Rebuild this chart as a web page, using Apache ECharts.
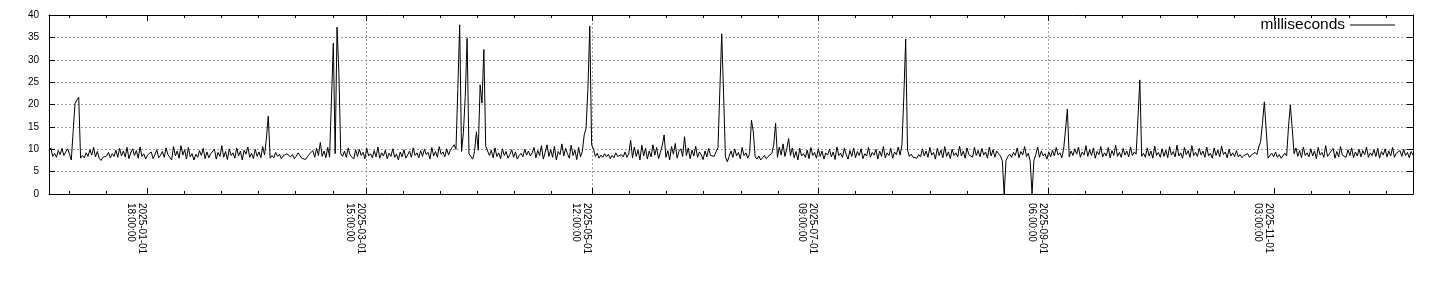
<!DOCTYPE html>
<html>
<head>
<meta charset="utf-8">
<script src="https://cdn.jsdelivr.net/npm/echarts@6/dist/echarts.min.js"></script>
<style>
html,body{margin:0;padding:0;background:#fff;}
#chart{width:1440px;height:300px;}
</style>
</head>
<body>
<div id="chart"></div>
<script>
// ---- data ----
const seriesName = 'milliseconds';
const startTime = '2024-12-06 09:00:00';   // first sample (UTC)
const endTime = '2025-12-08 09:00:00';     // last sample (UTC)
const stepHours = 12;                       // sampling interval
const majorTickLabels = ['2025-01-01 18:00:00','2025-03-01 15:00:00','2025-05-01 12:00:00','2025-07-01 09:00:00','2025-09-01 06:00:00','2025-11-01 03:00:00'];
const priorMajorTick = '2024-11-01 21:00:00';
const minorTickDays = [10,20,30,40,50];
const values = [
9.6,10.3,8.4,9.1,8.2,9.7,8.8,10.2,8.6,9.4,10.1,8.9,7.6,14.0,20.2,21.0,21.6,8.0,8.6,8.1,
9.2,8.4,9.9,8.7,10.4,8.3,9.5,8.0,7.5,8.2,7.8,8.5,9.3,8.1,9.0,8.4,9.8,8.2,10.2,8.5,
9.6,8.3,10.4,7.9,9.2,10.1,8.6,9.7,8.0,10.5,8.4,9.0,7.8,8.7,8.3,9.4,7.9,8.8,9.9,8.1,
8.6,9.5,8.2,10.3,8.8,9.1,7.6,10.6,8.5,9.6,8.0,10.8,8.7,9.9,7.8,10.4,8.3,9.0,7.6,8.9,
8.2,9.7,8.6,10.2,7.9,9.4,8.1,9.0,8.6,10.0,7.8,9.3,8.4,10.8,8.2,9.5,7.7,10.1,8.6,9.2,
8.0,10.3,8.5,9.6,7.6,9.8,8.9,10.5,8.2,9.1,7.9,10.0,8.4,9.4,8.1,10.6,8.7,12.5,17.4,8.0,
8.6,8.1,9.3,8.4,8.9,7.9,8.5,8.2,9.0,8.7,8.3,8.8,7.9,8.4,9.2,8.6,8.0,7.6,7.7,8.3,
8.9,8.5,9.7,8.2,10.2,8.6,11.5,8.4,9.6,8.1,10.4,8.3,21.0,33.7,9.0,37.3,27.0,9.0,8.4,9.6,
8.2,10.3,8.7,9.1,7.8,9.9,8.4,10.0,8.6,9.3,7.9,10.2,8.5,9.0,8.1,9.7,8.3,10.5,8.0,9.2,
8.5,9.8,7.9,9.1,8.4,10.1,8.2,8.9,7.6,9.4,8.3,9.9,8.0,8.7,9.6,8.2,10.3,8.6,9.2,8.1,
9.7,8.4,10.0,8.8,9.3,7.8,10.4,8.5,9.5,8.2,10.6,8.9,9.4,8.3,10.1,8.7,9.8,10.4,11.0,10.0,
23.6,37.8,9.5,13.7,21.8,34.8,9.0,8.4,7.8,9.5,13.9,9.8,24.4,20.3,32.3,10.7,10.5,8.6,9.8,8.1,
10.3,8.4,9.2,7.9,10.1,8.6,9.5,8.0,8.8,9.9,8.2,9.4,7.8,8.6,9.1,8.3,10.0,8.7,9.6,8.5,
9.2,10.4,8.1,9.7,8.6,10.8,7.8,9.3,11.0,8.4,9.9,8.2,10.6,7.6,9.5,8.8,11.2,8.5,10.2,9.0,
8.0,10.9,8.6,9.8,7.7,10.4,8.3,9.5,13.2,14.7,23.5,37.5,11.0,10.0,8.4,9.1,8.0,8.7,8.2,9.0,
8.3,8.9,7.9,8.6,8.1,9.2,8.4,8.0,8.8,8.3,9.4,8.2,9.0,12.0,8.1,10.5,8.4,9.8,7.6,10.9,
8.5,10.2,7.8,9.6,8.3,11.0,8.7,10.4,7.9,9.3,10.8,13.2,8.2,9.7,7.6,10.6,8.9,11.3,8.0,9.5,
10.1,8.4,12.8,8.6,10.3,7.9,9.8,8.5,10.7,8.2,9.4,8.8,7.7,9.6,8.3,10.2,8.6,9.0,8.4,9.5,
10.4,23.2,35.8,22.3,8.3,7.2,7.5,9.6,8.2,10.1,8.5,9.3,7.9,10.4,8.6,9.2,8.0,9.0,16.5,13.9,
8.3,7.8,8.5,7.6,8.1,8.6,7.9,8.4,8.0,9.1,11.0,15.8,8.2,10.5,8.7,11.2,8.4,10.0,12.4,8.6,
10.3,8.1,9.5,7.6,10.2,8.5,9.0,8.2,9.8,7.9,10.4,8.6,9.3,8.0,10.1,8.4,9.6,7.8,9.2,8.7,
10.0,8.3,9.4,7.7,10.5,8.6,9.1,8.2,10.2,8.8,7.8,9.7,8.4,10.3,8.1,9.5,8.6,10.1,7.9,9.0,
8.5,10.4,8.2,9.3,8.7,10.0,7.8,9.6,8.4,10.6,8.1,9.2,8.6,10.2,8.0,9.4,8.8,10.5,8.7,11.0,
21.8,34.6,9.8,8.4,8.9,8.2,8.6,8.0,8.8,8.3,10.1,8.5,9.6,8.2,10.4,8.7,9.3,7.8,10.2,8.6,
9.8,8.1,10.6,8.4,9.4,7.9,10.0,8.6,9.2,8.3,10.7,8.5,9.6,8.0,10.3,8.8,9.1,8.2,10.4,8.6,
9.7,8.3,10.2,8.7,9.4,8.0,10.5,8.5,9.9,8.2,9.6,9.0,8.5,7.4,0,7.5,8.4,8.9,8.2,9.3,
8.6,10.3,8.1,9.5,8.7,10.6,8.4,9.1,7.3,0,7.5,8.8,10.5,8.2,9.6,8.5,9.0,7.8,9.4,8.3,
9.8,8.5,10.4,8.7,9.2,8.1,10.0,14.3,19.0,8.3,9.6,8.6,10.1,8.9,10.5,8.2,9.4,8.7,10.8,8.4,
9.9,8.6,10.3,8.0,9.5,8.8,10.6,8.3,9.2,8.5,10.4,8.1,9.7,8.6,10.9,8.4,9.3,8.2,10.2,8.7,
9.6,8.3,10.5,8.6,9.4,8.9,17.0,25.5,8.4,9.1,8.2,10.3,8.5,9.6,8.0,10.7,8.6,9.3,8.2,10.1,
8.4,9.8,8.1,10.6,8.7,9.5,8.3,10.9,8.5,9.2,8.0,10.4,8.8,9.7,8.2,10.8,8.6,9.3,8.4,10.2,
8.7,9.6,8.2,10.5,8.5,9.1,8.0,10.3,8.6,9.8,8.3,10.7,8.8,9.4,8.1,10.0,8.5,9.2,8.4,9.7,
8.3,8.8,8.1,8.6,8.4,9.0,8.2,8.7,8.5,9.3,8.8,10.5,11.7,15.8,20.6,14.3,8.0,8.6,9.1,8.3,
9.4,8.2,8.8,8.0,8.5,9.1,8.5,15.0,19.9,14.7,9.0,10.3,8.4,9.7,8.1,10.5,8.6,9.2,8.3,10.1,
8.5,9.6,7.9,10.4,8.7,9.3,8.2,10.8,8.4,9.0,8.6,10.2,8.0,9.5,8.3,10.6,8.7,9.1,8.2,9.9,
8.6,10.3,8.1,9.4,8.5,10.0,8.3,9.7,8.8,10.5,8.2,9.2,8.6,9.9,8.4,10.2,8.0,9.5,8.7,10.1,
8.3,9.6,8.5,10.4,8.2,9.1,8.8,9.7,8.4,10.0,8.6,9.3,8.1,9.5,8.7
];

// ---- build ----
const parseUTC = s => Date.parse(s.replace(' ', 'T') + 'Z');
const DAY = 86400000;
const tMin = parseUTC(startTime);
const tMax = parseUTC(endTime);
const seriesData = values.map((v, i) => [tMin + i * stepHours * 3600000, v]);
const majors = majorTickLabels.map(parseUTC);
const minors = [];
[parseUTC(priorMajorTick)].concat(majors).forEach(m => {
  minorTickDays.forEach(d => { const t = m + d * DAY; if (t > tMin && t < tMax) minors.push(t); });
});
const pad = n => String(n).padStart(2, '0');
const fmt = v => {
  const d = new Date(v);
  return d.getUTCFullYear() + '-' + pad(d.getUTCMonth() + 1) + '-' + pad(d.getUTCDate()) + '\n' +
    pad(d.getUTCHours()) + ':' + pad(d.getUTCMinutes()) + ':' + pad(d.getUTCSeconds());
};
const FONT = "'Liberation Sans', Arial, sans-serif";
const gridLine = { show: true, showMinLine: false, showMaxLine: false, lineStyle: { color: '#a0a0a0', width: 1, type: [2, 2] } };
const border = { show: true, lineStyle: { color: '#000', width: 1 } };
const baseX = (pos, ticks, len, opts) => Object.assign({
  type: 'value', position: pos, min: tMin, max: tMax,
  axisLine: { show: false },
  axisTick: { show: true, inside: true, length: len, customValues: ticks, lineStyle: { color: '#000', width: 1 } },
  axisLabel: { show: false },
  splitLine: { show: false }
}, opts || {});

const chart = echarts.init(document.getElementById('chart'), null, { renderer: 'canvas' });
chart.setOption({
  animation: false,
  backgroundColor: '#fff',
  textStyle: { fontFamily: FONT },
  grid: { left: 49, right: 27, top: 15, bottom: 106, containLabel: false },
  legend: {
    show: true, right: 45, top: 17, padding: 0, align: 'right',
    itemWidth: 45, itemHeight: 1, itemGap: 0,
    textStyle: { fontFamily: FONT, fontSize: 15.5, color: '#000' },
    data: [{ name: seriesName, icon: 'rect', itemStyle: { color: '#000' } }]
  },
  xAxis: [
    baseX('bottom', majors, 6, {
      axisLine: border,
      axisLabel: {
        show: true, customValues: majors, formatter: fmt, rotate: -90,
        align: 'left', verticalAlign: 'top', fontSize: 10, lineHeight: 11,
        margin: 9, color: '#000', fontFamily: FONT
      },
      splitLine: gridLine
    }),
    baseX('bottom', minors, 3),
    baseX('top', majors, 6, { axisLine: border }),
    baseX('top', minors, 3)
  ],
  yAxis: [
    {
      type: 'value', position: 'left', min: 0, max: 40, interval: 5,
      axisLine: border,
      axisTick: { show: true, inside: true, length: 6, lineStyle: { color: '#000' } },
      axisLabel: { show: true, fontSize: 10, margin: 10, color: '#000', fontFamily: FONT },
      splitLine: gridLine
    },
    {
      type: 'value', position: 'right', min: 0, max: 40, interval: 5,
      axisLine: border,
      axisTick: { show: true, inside: true, length: 6, lineStyle: { color: '#000' } },
      axisLabel: { show: false },
      splitLine: { show: false }
    }
  ],
  series: [{
    name: seriesName, type: 'line', xAxisIndex: 0, yAxisIndex: 0,
    data: seriesData, showSymbol: false, symbol: 'none',
    lineStyle: { color: '#000', width: 1 }, itemStyle: { color: '#000' },
    emphasis: { disabled: true }
  }]
});
</script>
</body>
</html>
